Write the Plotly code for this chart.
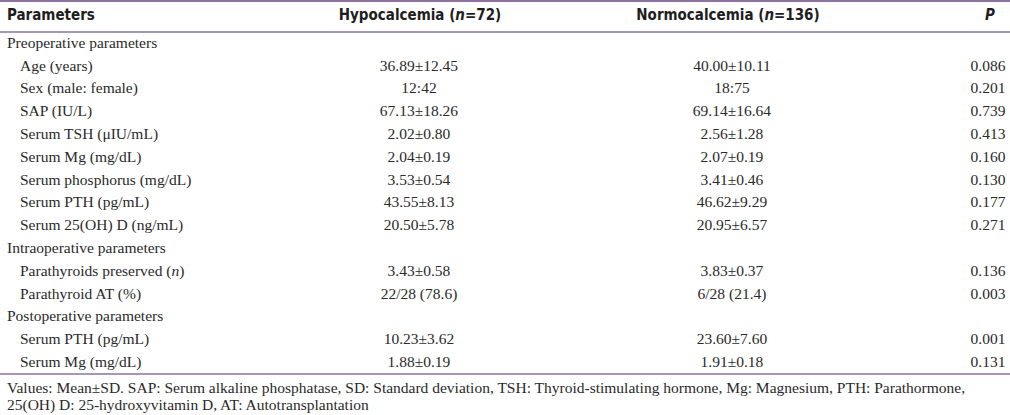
import plotly.graph_objects as go

# ---- data ----
headers = ["Parameters", "Hypocalcemia (<i>n</i>=72)", "Normocalcemia (<i>n</i>=136)", "<i>P</i>"]
parameters = [
    "Preoperative parameters",
    "Age (years)",
    "Sex (male: female)",
    "SAP (IU/L)",
    "Serum TSH (μIU/mL)",
    "Serum Mg (mg/dL)",
    "Serum phosphorus (mg/dL)",
    "Serum PTH (pg/mL)",
    "Serum 25(OH) D (ng/mL)",
    "Intraoperative parameters",
    "Parathyroids preserved (<i>n</i>)",
    "Parathyroid AT (%)",
    "Postoperative parameters",
    "Serum PTH (pg/mL)",
    "Serum Mg (mg/dL)",
]
is_group = [True, False, False, False, False, False, False, False, False,
            True, False, False, True, False, False]
hypocalcemia = ["", "36.89±12.45", "12:42", "67.13±18.26", "2.02±0.80", "2.04±0.19",
                "3.53±0.54", "43.55±8.13", "20.50±5.78", "", "3.43±0.58", "22/28 (78.6)",
                "", "10.23±3.62", "1.88±0.19"]
normocalcemia = ["", "40.00±10.11", "18:75", "69.14±16.64", "2.56±1.28", "2.07±0.19",
                 "3.41±0.46", "46.62±9.29", "20.95±6.57", "", "3.83±0.37", "6/28 (21.4)",
                 "", "23.60±7.60", "1.91±0.18"]
p_values = ["", "0.086", "0.201", "0.739", "0.413", "0.160", "0.130", "0.177", "0.271",
            "", "0.136", "0.003", "", "0.001", "0.131"]
footnote = ["Values: Mean±SD. SAP: Serum alkaline phosphatase, SD: Standard deviation, TSH: Thyroid-stimulating hormone, Mg: Magnesium, PTH: Parathormone,",
            "25(OH) D: 25-hydroxyvitamin D, AT: Autotransplantation"]

# ---- layout constants ----
W, H = 1010, 415
ROW0, STEP = 44, 22.8
def yi(pix):
    return (pix - ROW0) / STEP

col_x = {"param": 7, "indent": 20, "hypo": 419, "normo": 732, "p": 988}
head_x = {"hypo": 420, "normo": 728, "p": 990}
body_font = dict(family="Liberation Serif, Times New Roman, serif", size=15.5, color="#2a2a2a")
head_font = dict(family="DejaVu Sans Condensed, Liberation Sans Narrow, Arial Narrow, sans-serif",
                 size=15, color="#1e1e1e")
line_color = "#8a73a0"

rows = list(range(len(parameters)))

fig = go.Figure()
fig.add_trace(go.Scatter(
    x=[col_x["param"] if g else col_x["indent"] for g in is_group], y=rows,
    text=parameters, mode="text", textposition="middle right",
    textfont=body_font, hoverinfo="skip", showlegend=False))
for key, vals in (("hypo", hypocalcemia), ("normo", normocalcemia), ("p", p_values)):
    fig.add_trace(go.Scatter(
        x=[col_x[key]] * len(vals), y=rows, text=vals, mode="text",
        textposition="middle center", textfont=body_font,
        hoverinfo="skip", showlegend=False))

# header
hy = yi(16)
fig.add_trace(go.Scatter(x=[col_x["param"]], y=[hy], text=["<b>" + headers[0] + "</b>"],
                         mode="text", textposition="middle right", textfont=head_font,
                         hoverinfo="skip", showlegend=False))
fig.add_trace(go.Scatter(x=[head_x["hypo"], head_x["normo"], head_x["p"]], y=[hy] * 3,
                         text=["<b>" + h + "</b>" for h in headers[1:]],
                         mode="text", textposition="middle center", textfont=head_font,
                         hoverinfo="skip", showlegend=False))

# footnote
fig.add_trace(go.Scatter(x=[7, 7], y=[yi(389), yi(406)], text=footnote, mode="text",
                         textposition="middle right", textfont=body_font,
                         hoverinfo="skip", showlegend=False))

# rules
for ypix, wdt in ((1, 2), (32, 1.5), (374, 1.5)):
    fig.add_shape(type="line", x0=0, x1=W, y0=yi(ypix), y1=yi(ypix),
                  line=dict(color=line_color, width=wdt))

fig.update_layout(
    width=W, height=H, margin=dict(l=0, r=0, t=0, b=0),
    paper_bgcolor="white", plot_bgcolor="white",
    xaxis=dict(range=[0, W], visible=False, fixedrange=True),
    yaxis=dict(range=[yi(H), yi(0)], visible=False, fixedrange=True),
)
fig.write_html("out.html", config={"displayModeBar": False},
               post_script="document.body.style.margin='0';document.body.style.overflow='hidden';")
